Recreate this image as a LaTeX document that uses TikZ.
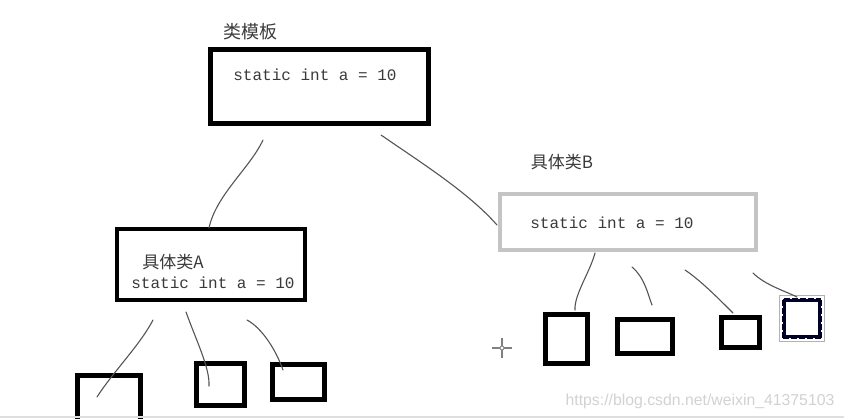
\documentclass[tikz,border=0pt]{standalone}
\usepackage{fontspec}
\setmainfont{Liberation Sans}
\setmonofont{Liberation Mono}
\newfontfamily\cjk{Noto Sans CJK SC}
\definecolor{txt}{HTML}{3A3A3A}
\definecolor{wire}{HTML}{555555}
\definecolor{boxgray}{HTML}{C4C4C4}
\definecolor{mark}{HTML}{D2D2D2}
\begin{document}
\begin{tikzpicture}[x=1pt,y=-1pt,
  blackbox/.style={draw=black,line width=5pt,inner sep=0pt,fill=none},
  thinbox/.style={draw=black,line width=4pt,inner sep=0pt},
  graybox/.style={draw=boxgray,line width=4pt,inner sep=0pt},
  codetext/.style={font=\ttfamily\fontsize{16}{18}\selectfont,text=txt,inner sep=0pt},
  cjktext/.style={font=\cjk\fontsize{17}{19}\selectfont,text=txt,inner sep=0pt},
  wirestyle/.style={draw=wire,line width=1.1pt,line cap=round}]
\fill[white] (0,0) rectangle (844,419);
\useasboundingbox (0,0) rectangle (844,419);
\clip (0,0) rectangle (844,419);
% main boxes
\node[blackbox,minimum width=218pt,minimum height=74pt] (top) at (319.5,86.5) {};
\node[cjktext,font=\cjk\fontsize{18}{20}\selectfont] (toplabel) at (250,32) {类模板};
\node[codetext] (toptext) at (315,75) {static int a = 10};
\node[thinbox,minimum width=188pt,minimum height=71pt] (boxA) at (211,264.5) {};
\draw[black,line width=2pt] (305.5,228) -- (305.5,301);
\node[cjktext] (alabel) at (173,262) {具体类A};
\node[codetext] (atext) at (213,283) {static int a = 10};
\node[graybox,minimum width=256pt,minimum height=56pt] (boxB) at (628,222) {};
\node[cjktext] (blabel) at (562,162) {具体类B};
\node[codetext] (btext) at (612,223) {static int a = 10};
% small boxes under A
\node[blackbox,minimum width=63pt,minimum height=64.5pt] (a1) at (109,407.75) {};
\node[blackbox,minimum width=48pt,minimum height=42pt] (a2) at (220.5,384.5) {};
\node[blackbox,minimum width=52pt,minimum height=35pt] (a3) at (298.5,382) {};
% small boxes under B
\node[blackbox,minimum width=42pt,minimum height=49pt] (b1) at (566.5,339) {};
\node[blackbox,minimum width=55pt,minimum height=34pt] (b2) at (645,336.5) {};
\node[blackbox,minimum width=38pt,minimum height=30pt] (b3) at (740.5,332.5) {};
\node[thinbox,draw=black!85!blue,minimum width=36pt,minimum height=37pt] (b4) at (802,318.5) {};
\draw[white,line width=1.2pt,dash pattern=on 2pt off 6pt] (b4.north west) rectangle (b4.south east);
\draw[gray!60,line width=0.6pt] ([shift={(-2.5,-2.5)}]b4.north west) rectangle ([shift={(2.5,2.5)}]b4.south east);
% connector end points
\coordinate (t1) at (263,140); \coordinate (ta) at (209,228);
\coordinate (t2) at (381,135); \coordinate (tb) at (497,225);
\coordinate (s1) at (153,320); \coordinate (e1) at (97,397);
\coordinate (s2) at (186,312); \coordinate (e2) at (209,386);
\coordinate (s3) at (247,320); \coordinate (e3) at (283,370);
\coordinate (u1) at (595,253); \coordinate (f1) at (575,310);
\coordinate (u2) at (632,267); \coordinate (f2) at (652,305);
\coordinate (u3) at (685,270); \coordinate (f3) at (733,313);
\coordinate (u4) at (753,273); \coordinate (f4) at (797,297);
\draw[wirestyle] (t1) .. controls (250,168) and (216,195) .. (ta);
\draw[wirestyle] (t2) .. controls (420,162) and (468,192) .. (tb);
\draw[wirestyle] (s1) .. controls (140,345) and (113,372) .. (e1);
\draw[wirestyle] (s2) .. controls (196,340) and (210,368) .. (e2);
\draw[wirestyle] (s3) .. controls (262,328) and (276,350) .. (e3);
\draw[wirestyle] (u1) .. controls (590,272) and (574,295) .. (f1);
\draw[wirestyle] (u2) .. controls (645,278) and (648,295) .. (f2);
\draw[wirestyle] (u3) .. controls (700,280) and (718,298) .. (f3);
\draw[wirestyle] (u4) .. controls (765,285) and (785,291) .. (f4);
% crosshair
\coordinate (cross) at (502,348);
\draw[gray,line width=1.2pt] ([xshift=-10pt]cross) -- ([xshift=10pt]cross) ([yshift=-10pt]cross) -- ([yshift=10pt]cross);
\draw[gray,line width=0.8pt,fill=white] (cross) circle (2pt);
% watermark
\node[text=mark,font=\fontsize{15.8}{18}\selectfont,inner sep=0pt] (wm) at (700,401) {https://blog.csdn.net/weixin\_41375103};
\draw[gray!25,line width=2pt] (0,417.5) -- (844,417.5);
\end{tikzpicture}
\end{document}
